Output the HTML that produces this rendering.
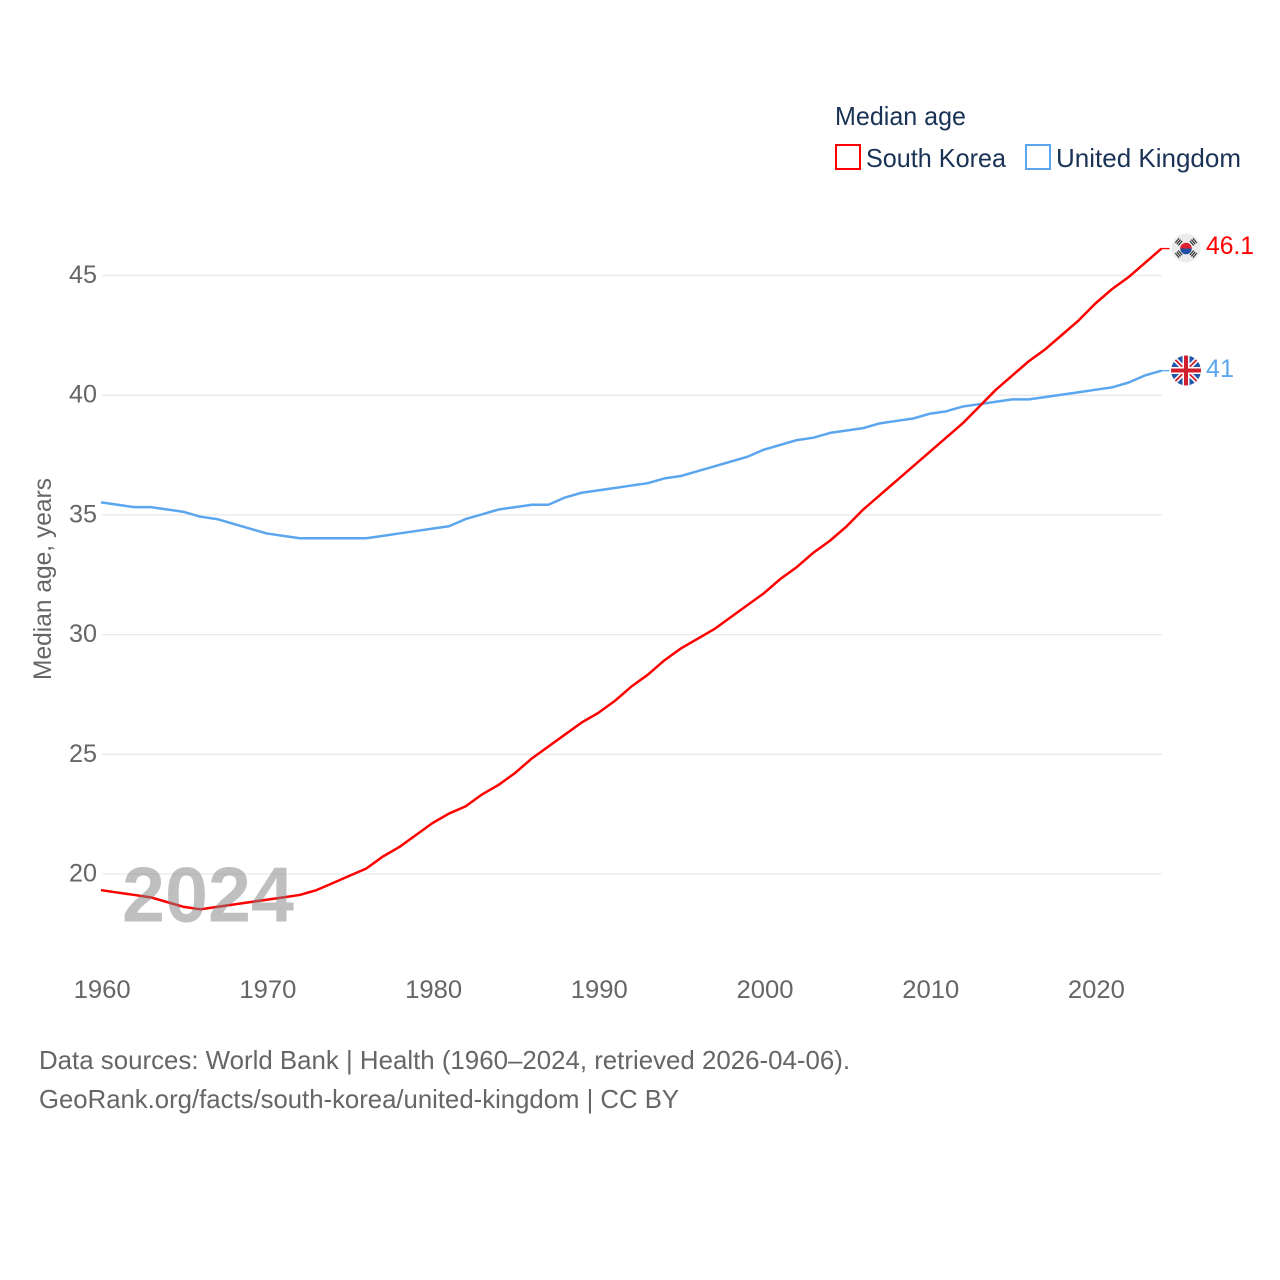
<!DOCTYPE html>
<html lang="en">
<head>
<meta charset="utf-8">
<title>Median age: South Korea and United Kingdom</title>
<style>
html,body{margin:0;padding:0;background:#fff}
svg{display:block}
text{font-family:"Liberation Sans",sans-serif}
</style>
</head>
<body>
<svg id="chart" xmlns="http://www.w3.org/2000/svg" width="1280" height="1280" viewBox="0 0 1280 1280">
  <defs>
    <clipPath id="uk-clip"><circle cx="1186" cy="370.5" r="15"/></clipPath>
  </defs>
  <rect width="1280" height="1280" fill="#fff"/>
  <g id="grid"></g>
  <g id="yticks"></g>
  <g id="xticks"></g>
  <text transform="translate(51,680) rotate(-90)" font-size="25" fill="#666" textLength="202" lengthAdjust="spacingAndGlyphs">Median age, years</text>
  <g id="series"></g>
  <text id="year" x="122" y="921.5" font-size="78" font-weight="bold" fill="#808080" fill-opacity="0.5" textLength="172" lengthAdjust="spacingAndGlyphs">2024</text>

  <g>
    <text x="835" y="125" font-size="26" fill="#1a3355" textLength="131" lengthAdjust="spacingAndGlyphs">Median age</text>
    <g>
      <rect x="836" y="145" width="24" height="24" fill="#fff" stroke="#ff0000" stroke-width="2"/>
      <text x="866" y="167" font-size="26" fill="#1a3355" textLength="140" lengthAdjust="spacingAndGlyphs">South Korea</text>
    </g>
    <g>
      <rect x="1026" y="145" width="24" height="24" fill="#fff" stroke="#5ba6ef" stroke-width="2"/>
      <text x="1056" y="167" font-size="26" fill="#1a3355" textLength="185" lengthAdjust="spacingAndGlyphs">United Kingdom</text>
    </g>
  </g>

  <g>
    <circle cx="1186" cy="248" r="14.5" fill="#ececec"/>
    <path d="M1180.2 248.5a5.8 5.8 0 0 1 11.6 0z" fill="#d8232f"/>
    <path d="M1180.2 248.5a5.8 5.8 0 0 0 11.6 0z" fill="#1f4fa0"/>
    <g stroke="#333" stroke-width="1.2" fill="none">
      <path d="M1183 240.5h6M1183 238.5h6M1183 236.5h6" transform="rotate(-50 1186 248)"/>
      <path d="M1183 240.5h6M1183 238.5h6M1183 236.5h6" transform="rotate(50 1186 248)"/>
      <path d="M1183 240.5h6M1183 238.5h6M1183 236.5h6" transform="rotate(-130 1186 248)"/>
      <path d="M1183 240.5h6M1183 238.5h6M1183 236.5h6" transform="rotate(130 1186 248)"/>
    </g>
  </g>
  <g clip-path="url(#uk-clip)">
    <circle cx="1186" cy="370.5" r="15" fill="#1f56a8"/>
    <path d="M1171 355.5l30 30M1201 355.5l-30 30" stroke="#fff" stroke-width="5"/>
    <path d="M1171 355.5l30 30M1201 355.5l-30 30" stroke="#d0202e" stroke-width="1.8"/>
    <path d="M1186 355v31M1170 370.5h32" stroke="#fff" stroke-width="7"/>
    <path d="M1186 355v31M1170 370.5h32" stroke="#d0202e" stroke-width="4"/>
  </g>

  <text id="kr-value" x="1206" y="254" font-size="25" fill="#ff0000" textLength="48" lengthAdjust="spacingAndGlyphs"></text>
  <text id="uk-value" x="1206" y="377" font-size="25" fill="#5ba6ef" textLength="28" lengthAdjust="spacingAndGlyphs"></text>

  <g>
    <text x="39" y="1069" font-size="26" fill="#666" textLength="811" lengthAdjust="spacingAndGlyphs">Data sources: World Bank | Health (1960–2024, retrieved 2026-04-06).</text>
    <text x="39" y="1108" font-size="26" fill="#666" textLength="640" lengthAdjust="spacingAndGlyphs">GeoRank.org/facts/south-korea/united-kingdom | CC BY</text>
  </g>
</svg>
<script>
const firstYear = 1960;
const lastYear = 2024;
const southKorea = [19.3,19.2,19.1,19.0,18.8,18.6,18.5,18.6,18.7,18.8,18.9,19.0,19.1,19.3,19.6,19.9,20.2,20.7,21.1,21.6,22.1,22.5,22.8,23.3,23.7,24.2,24.8,25.3,25.8,26.3,26.7,27.2,27.8,28.3,28.9,29.4,29.8,30.2,30.7,31.2,31.7,32.3,32.8,33.4,33.9,34.5,35.2,35.8,36.4,37.0,37.6,38.2,38.8,39.5,40.2,40.8,41.4,41.9,42.5,43.1,43.8,44.4,44.9,45.5,46.1];
const unitedKingdom = [35.5,35.4,35.3,35.3,35.2,35.1,34.9,34.8,34.6,34.4,34.2,34.1,34.0,34.0,34.0,34.0,34.0,34.1,34.2,34.3,34.4,34.5,34.8,35.0,35.2,35.3,35.4,35.4,35.7,35.9,36.0,36.1,36.2,36.3,36.5,36.6,36.8,37.0,37.2,37.4,37.7,37.9,38.1,38.2,38.4,38.5,38.6,38.8,38.9,39.0,39.2,39.3,39.5,39.6,39.7,39.8,39.8,39.9,40.0,40.1,40.2,40.3,40.5,40.8,41.0];
const yTickValues = [20,25,30,35,40,45];
const xTickValues = [1960,1970,1980,1990,2000,2010,2020];
const southKoreaLabel = "46.1";
const unitedKingdomLabel = "41";

const NS = 'http://www.w3.org/2000/svg';
function xScale(year){ return 101 + (year - firstYear) * (1161.5 - 101) / (lastYear - firstYear); }
function yScale(v){ return 874 - (v - 20) * (874 - 275.5) / 25; }
function lineY(v){ return yScale(v) - 0.6; }

const grid = document.getElementById('grid');
const yticks = document.getElementById('yticks');
const xticks = document.getElementById('xticks');
const seriesGroup = document.getElementById('series');

yTickValues.forEach(function(v){
  const line = document.createElementNS(NS,'line');
  
  
  line.setAttribute('x1', 102);
  line.setAttribute('x2', 1162);
  line.setAttribute('y1', yScale(v));
  line.setAttribute('y2', yScale(v));
  line.setAttribute('stroke', '#eaeaea');
  line.setAttribute('stroke-width', '1.3');
  grid.appendChild(line);

  const t = document.createElementNS(NS,'text');
  
  
  t.setAttribute('x', 69);
  t.setAttribute('y', yScale(v) + 7.5);
  t.setAttribute('font-size', '25');
  t.setAttribute('fill', '#666');
  t.setAttribute('textLength', '28');
  t.setAttribute('lengthAdjust', 'spacingAndGlyphs');
  t.textContent = String(v);
  yticks.appendChild(t);
});

xTickValues.forEach(function(year){
  const t = document.createElementNS(NS,'text');
  
  
  t.setAttribute('x', xScale(year) - 27.3);
  t.setAttribute('y', 998);
  t.setAttribute('font-size', '25');
  t.setAttribute('fill', '#666');
  t.setAttribute('textLength', '57');
  t.setAttribute('lengthAdjust', 'spacingAndGlyphs');
  t.textContent = String(year);
  xticks.appendChild(t);
});

function pointsFor(values){
  const pts = values.map(function(v,i){ return xScale(firstYear + i).toFixed(2) + ',' + lineY(v).toFixed(2); });
  return pts.join(' ');
}

const ukLine = document.createElementNS(NS,'polyline');


ukLine.setAttribute('points', pointsFor(unitedKingdom));
ukLine.setAttribute('fill', 'none');
ukLine.setAttribute('stroke', '#5ba6ef');
ukLine.setAttribute('stroke-width', '2.5');
ukLine.setAttribute('stroke-linejoin', 'round');
seriesGroup.appendChild(ukLine);

const krLine = document.createElementNS(NS,'polyline');


krLine.setAttribute('points', pointsFor(southKorea));
krLine.setAttribute('fill', 'none');
krLine.setAttribute('stroke', '#ff0000');
krLine.setAttribute('stroke-width', '2.5');
krLine.setAttribute('stroke-linejoin', 'round');
seriesGroup.appendChild(krLine);

const ukLead = document.createElementNS(NS,'line');


ukLead.setAttribute('x1', xScale(lastYear));
ukLead.setAttribute('x2', xScale(lastYear) + 8);
ukLead.setAttribute('y1', lineY(unitedKingdom[unitedKingdom.length - 1]));
ukLead.setAttribute('y2', lineY(unitedKingdom[unitedKingdom.length - 1]));
ukLead.setAttribute('stroke', '#5ba6ef');
ukLead.setAttribute('stroke-width', '1.3');
seriesGroup.appendChild(ukLead);

const krLead = document.createElementNS(NS,'line');


krLead.setAttribute('x1', xScale(lastYear));
krLead.setAttribute('x2', xScale(lastYear) + 8);
krLead.setAttribute('y1', lineY(southKorea[southKorea.length - 1]));
krLead.setAttribute('y2', lineY(southKorea[southKorea.length - 1]));
krLead.setAttribute('stroke', '#ff0000');
krLead.setAttribute('stroke-width', '1.3');
seriesGroup.appendChild(krLead);

document.getElementById('kr-value').textContent = southKoreaLabel;
document.getElementById('uk-value').textContent = unitedKingdomLabel;
</script>
</body>
</html>
